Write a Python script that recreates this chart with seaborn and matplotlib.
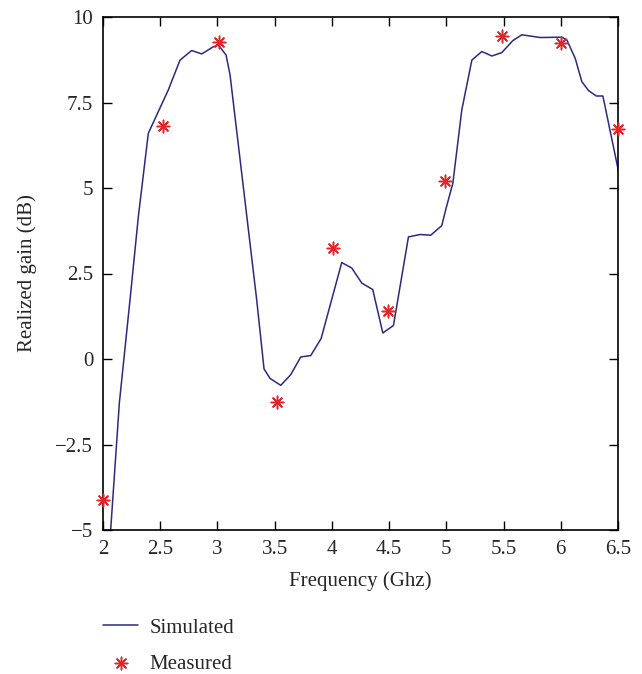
import matplotlib
matplotlib.use("Agg")
import matplotlib.pyplot as plt
import matplotlib.ticker as mticker
import numpy as np
import pandas as pd
import seaborn as sns

# Simulated realized gain
sim_freq = [2.04, 2.067, 2.143, 2.236, 2.31, 2.396, 2.571, 2.673, 2.775, 2.863,
            2.964, 3.008, 3.075, 3.11, 3.343, 3.407, 3.46, 3.553, 3.64, 3.728,
            3.815, 3.906, 4.086, 4.174, 4.261, 4.357, 4.445, 4.538, 4.669, 4.771,
            4.864, 4.96, 4.998, 5.057, 5.135, 5.223, 5.31, 5.398, 5.485, 5.581,
            5.66, 5.82, 6.01, 6.053, 6.126, 6.184, 6.242, 6.31, 6.368, 6.505]
sim_gain = [-6.3, -5.0, -1.28, 1.73, 4.2, 6.6, 7.87, 8.74, 9.02, 8.92,
            9.13, 9.18, 8.89, 8.31, 1.73, -0.29, -0.57, -0.77, -0.46, 0.06,
            0.10, 0.60, 2.82, 2.66, 2.22, 2.03, 0.76, 0.98, 3.57, 3.64,
            3.62, 3.90, 4.41, 5.14, 7.28, 8.74, 8.99, 8.86, 8.96, 9.31,
            9.48, 9.40, 9.41, 9.33, 8.79, 8.11, 7.85, 7.69, 7.69, 5.48]

# Measured realized gain
meas_freq = [2.0, 2.52, 3.01, 3.52, 4.01, 4.49, 4.99, 5.49, 6.0, 6.5]
meas_gain = [-4.13, 6.80, 9.28, -1.25, 3.26, 1.39, 5.21, 9.45, 9.25, 6.72]

x_ticks = [2, 2.5, 3, 3.5, 4, 4.5, 5, 5.5, 6, 6.5]
y_ticks = [-5, -2.5, 0, 2.5, 5, 7.5, 10]

sns.set_style("ticks")
plt.rcParams['font.family'] = ['Liberation Serif', 'DejaVu Serif']
plt.rcParams['axes.unicode_minus'] = True

sim = pd.DataFrame({'f': sim_freq, 'g': sim_gain})
meas = pd.DataFrame({'f': meas_freq, 'g': meas_gain})

fig = plt.figure(figsize=(6.42, 6.74), dpi=100)
ax = fig.add_axes([103 / 642, 144 / 674, 515 / 642, 513 / 674])

sns.lineplot(data=sim, x='f', y='g', ax=ax, color='#2b2a80', lw=1.1,
             label='Simulated', sort=False)
sns.scatterplot(data=meas, x='f', y='g', ax=ax, marker=(8, 2, 0), s=80,
                color='#e3262a', linewidth=1.1, edgecolor='#e3262a',
                label='Measured', clip_on=False, zorder=5)

ax.set_xlim(2, 6.5)
ax.set_ylim(-5, 10)
ax.set_xticks(x_ticks)
ax.set_yticks(y_ticks)
fmt = mticker.FuncFormatter(lambda v, p: ('%g' % v).replace('-', '\u2212'))
ax.xaxis.set_major_formatter(fmt)
ax.yaxis.set_major_formatter(fmt)
ax.tick_params(direction='in', length=6.5, width=1, top=True, right=True,
               labelsize=15, pad=7, color='black')
for s in ax.spines.values():
    s.set_visible(True)
    s.set_linewidth(1.2)
    s.set_color('black')

ax.set_xlabel('Frequency (Ghz)', fontsize=15, labelpad=9)
ax.set_ylabel('Realized gain (dB)', fontsize=15, labelpad=13)

leg = ax.legend(loc='center left', bbox_to_anchor=(103 / 642, 1 - 646 / 674),
                bbox_transform=fig.transFigure, frameon=False, fontsize=15,
                handlelength=1.7, handletextpad=0.55, labelspacing=0.8,
                borderaxespad=0, borderpad=0)

fig.savefig('out.png', dpi=100)
